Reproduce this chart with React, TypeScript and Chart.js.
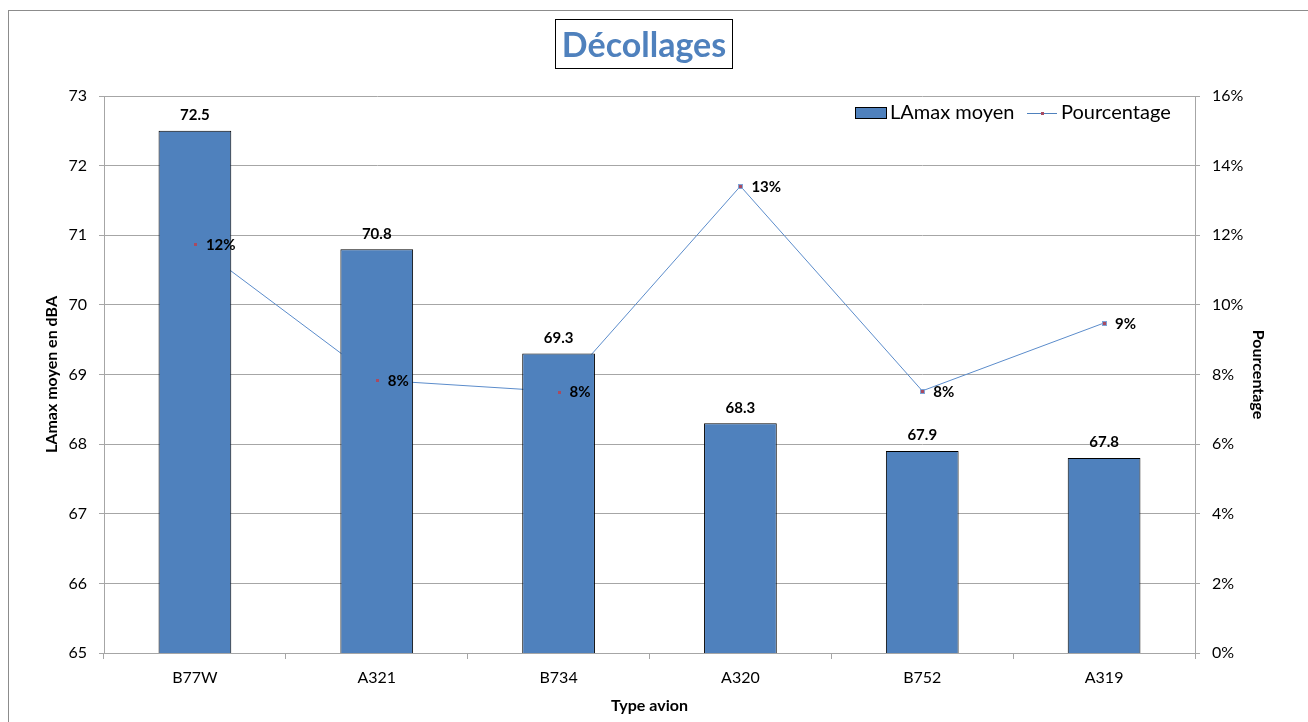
import React, { useEffect, useRef } from "react";
import { Chart, registerables } from "chart.js";

Chart.register(...registerables);

const categories = ["B77W", "A321", "B734", "A320", "B752", "A319"];
const lamaxMoyen = [72.5, 70.8, 69.3, 68.3, 67.9, 67.8];
const pourcentage = [11.75, 7.84, 7.51, 13.41, 7.53, 9.48];

const FONT = "Lato, 'Noto Sans', sans-serif";
const GRID = "#A6A6A6";
const BLUE = "#4F81BD";

const overlay = {
  id: "overlay",
  afterDraw(chart: any) {
    const ctx = chart.ctx as CanvasRenderingContext2D;
    const barMeta = chart.getDatasetMeta(0);
    const lineMeta = chart.getDatasetMeta(1);
    ctx.save();
    // markers
    lineMeta.data.forEach((p: any, i: number) => {
      const x = Math.round(p.x);
      const y = Math.round(p.y);
      if (i === 3 || i === 4 || i === 5) {
        ctx.fillStyle = "#7EA3D6";
        ctx.fillRect(x - 2, y - 2, 5, 5);
      }
      ctx.fillStyle = "#A84B62";
      ctx.fillRect(x - 1, y - 1, 3, 3);
    });
    ctx.fillStyle = "#000";
    ctx.font = `bold 15px ${FONT}`;
    ctx.textAlign = "center";
    ctx.textBaseline = "bottom";
    barMeta.data.forEach((b: any, i: number) => {
      ctx.fillText(lamaxMoyen[i].toFixed(1), b.x, b.y - 8);
    });
    ctx.textAlign = "left";
    ctx.textBaseline = "middle";
    lineMeta.data.forEach((p: any, i: number) => {
      ctx.fillText(Math.round(pourcentage[i]) + "%", p.x + 11, p.y + 1);
    });
    // legend
    ctx.fillStyle = BLUE;
    ctx.fillRect(855.5, 107.5, 31, 11);
    ctx.strokeStyle = "#000";
    ctx.lineWidth = 1;
    ctx.strokeRect(855.5, 107.5, 31, 11);
    ctx.fillStyle = "#000";
    ctx.font = `20px ${FONT}`;
    ctx.fillText("LAmax moyen", 890, 113);
    ctx.strokeStyle = BLUE;
    ctx.beginPath();
    ctx.moveTo(1027, 113.5);
    ctx.lineTo(1057, 113.5);
    ctx.stroke();
    ctx.fillStyle = "#A84B62";
    ctx.fillRect(1041, 112, 3, 3);
    ctx.fillStyle = "#000";
    ctx.fillText("Pourcentage", 1061, 113);
    ctx.restore();
  },
};

export default function App() {
  const ref = useRef<HTMLCanvasElement>(null);

  useEffect(() => {
    if (!ref.current) return;
    const tickFont = { family: FONT, size: 16 };
    const titleFont = { family: FONT, size: 16, weight: "bold" as const };
    const chart = new Chart(ref.current, {
      type: "bar",
      data: {
        labels: categories,
        datasets: [
          {
            type: "bar",
            label: "LAmax moyen",
            data: lamaxMoyen,
            backgroundColor: BLUE,
            borderColor: "#000",
            borderWidth: 1,
            borderSkipped: false,
            barPercentage: 0.4,
            categoryPercentage: 1,
            yAxisID: "y",
            order: 1,
          },
          {
            type: "line",
            label: "Pourcentage",
            data: pourcentage,
            borderColor: "#5B8CCB",
            borderWidth: 1,
            pointRadius: 0,
            yAxisID: "y1",
            order: 2,
          } as any,
        ],
      },
      options: {
        responsive: false,
        animation: false,
        layout: { padding: { top: 96, left: 0, right: 0, bottom: 0 } },
        plugins: {
          legend: { display: false },
          tooltip: { enabled: false },
        },
        scales: {
          x: {
            offset: true,
            grid: { offset: true, drawOnChartArea: false, color: GRID, tickLength: 6 },
            border: { color: GRID },
            ticks: { font: tickFont, color: "#000", padding: 9 },
            title: {
              display: true,
              text: "Type avion",
              font: titleFont,
              color: "#000",
              padding: { top: 0, bottom: 7 },
            },
            afterFit: (s: any) => {
              s.height = 69;
            },
          },
          y: {
            position: "left",
            min: 65,
            max: 73,
            ticks: { stepSize: 1, font: tickFont, color: "#000", padding: 12 },
            grid: { color: GRID, tickLength: 5 },
            border: { color: GRID },
            title: {
              display: true,
              text: "LAmax moyen en dBA",
              font: titleFont,
              color: "#000",
              padding: { top: 42, bottom: 0 },
            },
            afterFit: (s: any) => {
              s.width = 104;
            },
          },
          y1: {
            position: "right",
            min: 0,
            max: 16,
            ticks: {
              stepSize: 2,
              font: tickFont,
              color: "#000",
              padding: 12,
              callback: (v: any) => v + "%",
            },
            grid: { drawOnChartArea: false, color: GRID, tickLength: 5 },
            border: { color: GRID },
            title: {
              display: true,
              text: "Pourcentage",
              font: titleFont,
              color: "#000",
              padding: { top: 40, bottom: 0 },
            },
            afterFit: (s: any) => {
              s.width = 113;
            },
          },
        } as any,
      },
      plugins: [overlay],
    });
    return () => chart.destroy();
  }, []);

  return (
    <div
      style={{
        position: "absolute",
        left: 0,
        top: 0,
        width: 1308,
        height: 722,
        overflow: "hidden",
        background: "#fff",
      }}
    >
      <div
        style={{
          position: "absolute",
          left: 8,
          top: 10,
          width: 1400,
          height: 800,
          borderLeft: "1px solid #8C8C8C",
          borderTop: "1px solid #8C8C8C",
        }}
      />
      <canvas
        ref={ref}
        width={1308}
        height={722}
        style={{ position: "absolute", left: 0, top: 0, display: "block" }}
      />
      <div
        style={{
          position: "absolute",
          left: 555,
          top: 19,
          width: 176,
          height: 48,
          border: "1px solid #000",
          color: BLUE,
          fontFamily: FONT,
          fontWeight: "bold",
          fontSize: 34,
          lineHeight: "48px",
          textAlign: "center",
        }}
      >
        Décollages
      </div>
    </div>
  );
}
